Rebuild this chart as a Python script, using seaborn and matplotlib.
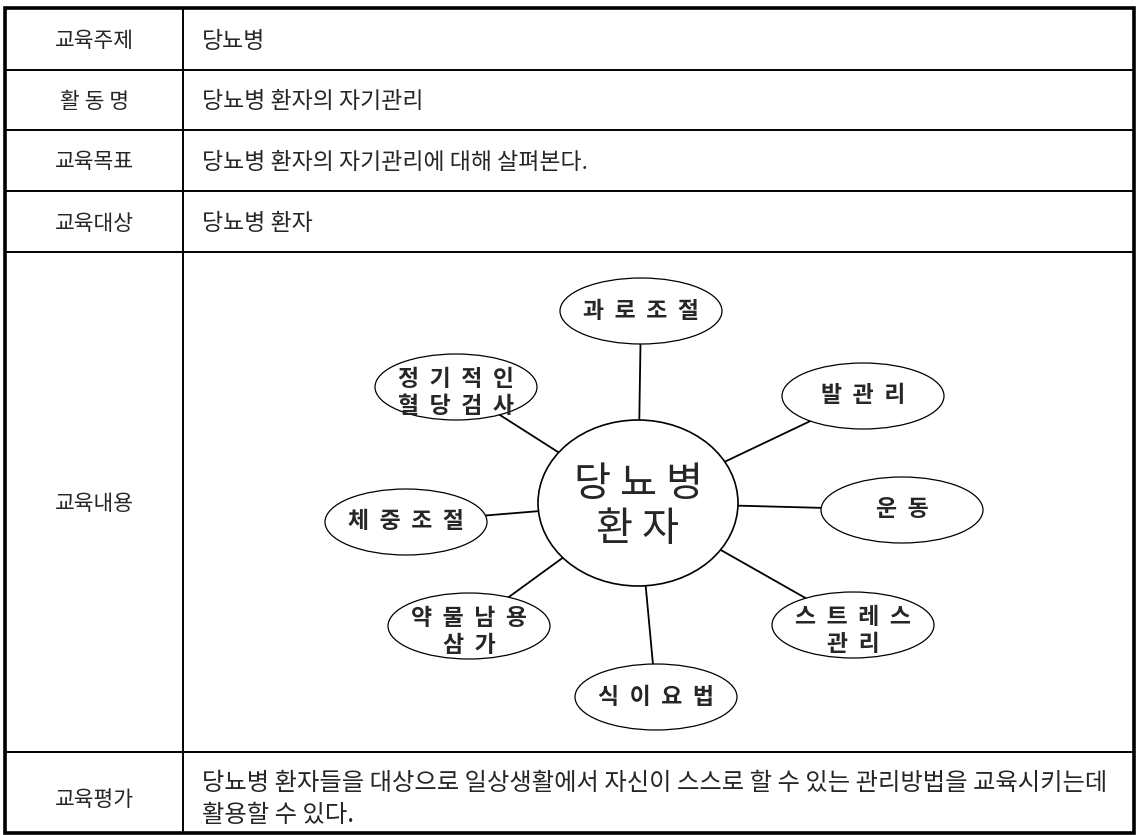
import pandas as pd
import seaborn as sns
import matplotlib.pyplot as plt
from matplotlib.patches import Ellipse, Rectangle

sns.set_theme(style="white")
plt.rcParams['font.family'] = ['Noto Sans CJK KR', 'DejaVu Sans']

# table content
row_labels = ["교육주제", "활 동 명", "교육목표", "교육대상", "교육내용", "교육평가"]
row_values = [
    "당뇨병",
    "당뇨병 환자의 자기관리",
    "당뇨병 환자의 자기관리에 대해 살펴본다.",
    "당뇨병 환자",
    "",
    "당뇨병 환자들을 대상으로 일상생활에서 자신이 스스로 할 수 있는 관리방법을 교육시키는데\n활용할 수 있다.",
]

# mind map content
hub_label = "당 뇨 병\n환 자"
node_labels = ["과 로 조 절", "발 관 리", "운 동", "스 트 레 스\n관 리",
               "식 이 요 법", "약 물 남 용\n삼 가", "체 중 조 절", "정 기 적 인\n혈 당 검 사"]

# layout (pixel coordinates, y downwards)
W, H = 1140, 835
row_edges = [8, 70, 130, 191, 252, 752, 833]
left, split, right = 5, 183, 1134
hub_xy, hub_w, hub_h = (638, 503), 200, 166
node_x = [641, 863, 902, 853, 656, 469, 406, 456]
node_y = [311, 396, 510, 625, 697, 626, 522, 387]
node_w, node_h = 162, 66

fig = plt.figure(figsize=(W / 100, H / 100), dpi=100)
ax = fig.add_axes([0, 0, 1, 1])
ax.set_xlim(0, W)
ax.set_ylim(H, 0)
ax.axis("off")

# table grid
ax.add_patch(Rectangle((left, row_edges[0]), right - left, row_edges[-1] - row_edges[0],
                       fill=False, lw=2.6, ec="black", zorder=1))
for y in row_edges[1:-1]:
    ax.plot([left, right], [y, y], color="black", lw=1.4, zorder=1)
ax.plot([split, split], [row_edges[0], row_edges[-1]], color="black", lw=1.4, zorder=1)

last = len(row_labels) - 1
for i, (lab, val) in enumerate(zip(row_labels, row_values)):
    yc = (row_edges[i] + row_edges[i + 1]) / 2
    off = 7 if i == last else 2
    ax.text((left + split) / 2, yc + off, lab, ha="center", va="center", fontsize=15.5)
    if val:
        ax.text(split + 19, yc + off, val, ha="left", va="center",
                fontsize=17.5 if i == last else 16.5, linespacing=1.3)

# spokes from hub to each node
spokes = pd.DataFrame({
    "x": [v for nx in node_x for v in (hub_xy[0], nx)],
    "y": [v for ny in node_y for v in (hub_xy[1], ny)],
    "spoke": [k for k in range(len(node_labels)) for _ in (0, 1)],
})
sns.lineplot(data=spokes, x="x", y="y", units="spoke", estimator=None, sort=False,
             color="black", lw=1.3, ax=ax, zorder=2, legend=False)

# hub circle
ax.add_patch(Ellipse(hub_xy, hub_w, hub_h, fc="white", ec="black", lw=1.2, zorder=3))
ax.text(hub_xy[0], hub_xy[1] + 4, hub_label, ha="center", va="center", fontsize=29,
        linespacing=1.1, zorder=4)

# nodes (a little extra letter spacing, as in the scan)
for lab, nx, ny in zip(node_labels, node_x, node_y):
    ax.add_patch(Ellipse((nx, ny), node_w, node_h, fc="white", ec="black", lw=0.9, zorder=3))
    dy = 6 if "\n" in lab else 0
    ax.text(nx, ny + dy, lab.replace(" ", "  "), ha="center", va="center", fontsize=16.5,
            fontweight="bold", linespacing=1.2, zorder=4)

fig.savefig("out.png", dpi=100)
